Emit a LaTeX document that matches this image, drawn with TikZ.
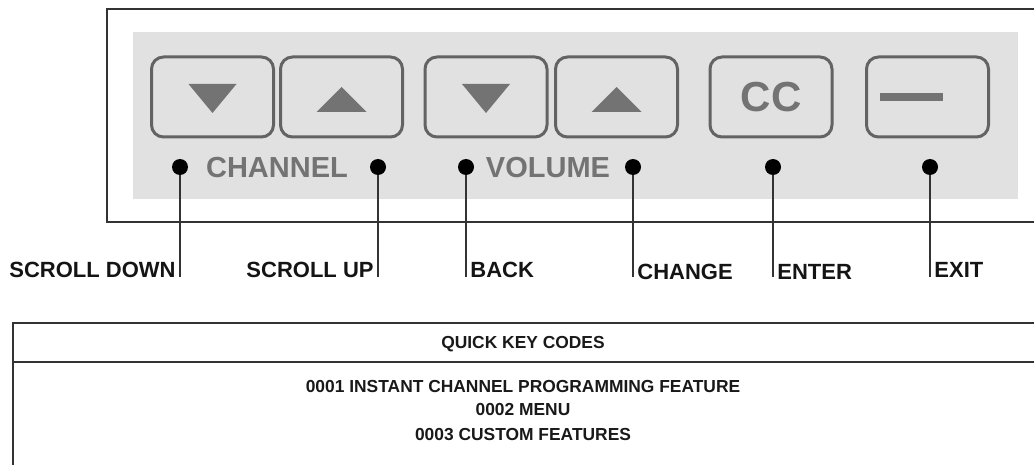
\documentclass[tikz,border=0pt]{standalone}
\usepackage{fontspec}
\setmainfont{Liberation Sans}
\usepackage{tikz}
\usetikzlibrary{calc}
\definecolor{framegray}{HTML}{333333}
\definecolor{panelgray}{HTML}{E1E1E1}
\definecolor{keygray}{HTML}{636363}
\definecolor{markgray}{HTML}{737373}

\begin{document}
\begin{tikzpicture}[x=0.5pt,y=-0.5pt,
	keybox/.style={draw=keygray,line width=1.5pt,rounded corners=6pt,minimum width=61pt,minimum height=40pt,inner sep=0pt},
	keydot/.style={circle,fill=black,minimum size=8pt,inner sep=0pt},
	leader/.style={line width=1pt,framegray},
	keylabel/.style={font=\fontsize{11}{13}\selectfont\bfseries,text=black!92,inner sep=2pt},
	grouplabel/.style={font=\fontsize{14.5}{16}\selectfont\bfseries,text=markgray,inner sep=0pt},
	codetext/.style={font=\fontsize{8.7}{10}\selectfont\bfseries,text=black!90,inner sep=0pt,anchor=base}]

	\useasboundingbox (0,0) rectangle (1034,465);

	% panel
	\fill[panelgray] (133,32) rectangle (1018,199);
	\draw[framegray,line width=1pt] (1034,9) -- (107,9) -- (107,222) -- (1034,222);

	% keys
	\node[keybox] (chdown) at (212.5,97) {};
	\node[keybox] (chup) at (341.5,97) {};
	\node[keybox] (voldown) at (486,97) {};
	\node[keybox] (volup) at (616.5,97) {};
	\node[keybox,font=\fontsize{21}{24}\selectfont\bfseries,text=markgray] (cc) at (771,97) {CC};
	\node[keybox] (exit) at (927.5,97) {};
	\fill[markgray] (chdown.center) ++(-24,-13) -- ++(48,0) -- ++(-24,29) -- cycle;
	\fill[markgray] (voldown.center) ++(-24,-13) -- ++(48,0) -- ++(-24,29) -- cycle;
	\fill[markgray] (chup.center) ++(-25,15) -- ++(50,0) -- ++(-25,-25) -- cycle;
	\fill[markgray] (volup.center) ++(-25,15) -- ++(50,0) -- ++(-25,-25) -- cycle;
	\fill[markgray] (exit.center) ++(-48,-4) rectangle ++(63,8);

	\node[grouplabel] (chname) at (277,168) {CHANNEL};
	\node[grouplabel] (volname) at (548,168) {VOLUME};

	% dots and leaders
	\foreach \k/\x in {sd/180,su/378,bk/466,chg/633,ent/773,ex/930}{
		\node[keydot] (d\k) at (\x,167) {};
		\coordinate (l\k) at (\x,277);
		\draw[leader] (d\k) -- (l\k);
	}

	\node[keylabel,anchor=base east] (tsd) at (lsd) {SCROLL DOWN};
	\node[keylabel,anchor=base east] (tsu) at (lsu) {SCROLL UP};
	\node[keylabel,anchor=base west] (tbk) at (lbk) {BACK};
	\node[keylabel,anchor=base west] (tchg) at ($(lchg)+(0,2)$) {CHANGE};
	\node[keylabel,anchor=base west] (tent) at ($(lent)+(0,2)$) {ENTER};
	\node[keylabel,anchor=base west] (tex) at (lex) {EXIT};

	% code table
	\draw[framegray,line width=1pt] (1034,323) -- (13,323) -- (13,465);
	\draw[framegray,line width=1pt] (13,362) -- (1034,362);
	\node[codetext] (head) at (523,348) {QUICK KEY CODES};
	\node[codetext] (codea) at (523,392) {0001 INSTANT CHANNEL PROGRAMMING FEATURE};
	\node[codetext] (codeb) at (523,415) {0002 MENU};
	\node[codetext] (codec) at (523,440) {0003 CUSTOM FEATURES};

\end{tikzpicture}
\end{document}
